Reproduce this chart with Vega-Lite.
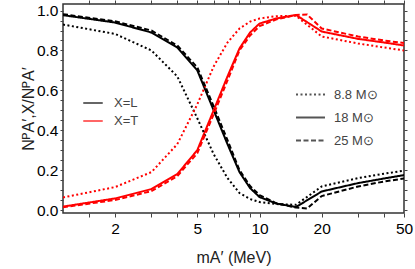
{
  "$schema": "https://vega.github.io/schema/vega-lite/v6.json",
  "width": 341,
  "height": 209,
  "autosize": {"type": "none"},
  "padding": {"left": 63, "top": 4, "right": 11, "bottom": 56},
  "config": {
    "font": "Liberation Sans",
    "view": {"stroke": "#333333", "strokeWidth": 1.5},
    "axis": {"domain": false, "grid": false, "tickColor": "#444444", "tickWidth": 1, "labelFont": "Liberation Sans", "titleFont": "Liberation Sans", "labelColor": "#000000", "titleColor": "#222222", "titleFontWeight": "normal"}
  },
  "data": {"values": [
    {"m": 1.12, "f": 0.977, "x": "X=L", "s": "18 M⊙"},
    {"m": 2, "f": 0.94, "x": "X=L", "s": "18 M⊙"},
    {"m": 3, "f": 0.89, "x": "X=L", "s": "18 M⊙"},
    {"m": 4, "f": 0.815, "x": "X=L", "s": "18 M⊙"},
    {"m": 5, "f": 0.70, "x": "X=L", "s": "18 M⊙"},
    {"m": 6, "f": 0.50, "x": "X=L", "s": "18 M⊙"},
    {"m": 7, "f": 0.33, "x": "X=L", "s": "18 M⊙"},
    {"m": 8, "f": 0.19, "x": "X=L", "s": "18 M⊙"},
    {"m": 9, "f": 0.11, "x": "X=L", "s": "18 M⊙"},
    {"m": 10, "f": 0.065, "x": "X=L", "s": "18 M⊙"},
    {"m": 12, "f": 0.033, "x": "X=L", "s": "18 M⊙"},
    {"m": 15, "f": 0.015, "x": "X=L", "s": "18 M⊙"},
    {"m": 20, "f": 0.093, "x": "X=L", "s": "18 M⊙"},
    {"m": 30, "f": 0.135, "x": "X=L", "s": "18 M⊙"},
    {"m": 40, "f": 0.158, "x": "X=L", "s": "18 M⊙"},
    {"m": 50, "f": 0.175, "x": "X=L", "s": "18 M⊙"},
    {"m": 1.12, "f": 0.017, "x": "X=T", "s": "18 M⊙"},
    {"m": 2, "f": 0.058, "x": "X=T", "s": "18 M⊙"},
    {"m": 3, "f": 0.105, "x": "X=T", "s": "18 M⊙"},
    {"m": 4, "f": 0.18, "x": "X=T", "s": "18 M⊙"},
    {"m": 5, "f": 0.30, "x": "X=T", "s": "18 M⊙"},
    {"m": 6, "f": 0.50, "x": "X=T", "s": "18 M⊙"},
    {"m": 7, "f": 0.67, "x": "X=T", "s": "18 M⊙"},
    {"m": 8, "f": 0.81, "x": "X=T", "s": "18 M⊙"},
    {"m": 9, "f": 0.89, "x": "X=T", "s": "18 M⊙"},
    {"m": 10, "f": 0.935, "x": "X=T", "s": "18 M⊙"},
    {"m": 12, "f": 0.96, "x": "X=T", "s": "18 M⊙"},
    {"m": 15, "f": 0.978, "x": "X=T", "s": "18 M⊙"},
    {"m": 20, "f": 0.895, "x": "X=T", "s": "18 M⊙"},
    {"m": 30, "f": 0.858, "x": "X=T", "s": "18 M⊙"},
    {"m": 40, "f": 0.84, "x": "X=T", "s": "18 M⊙"},
    {"m": 50, "f": 0.825, "x": "X=T", "s": "18 M⊙"},
    {"m": 1.12, "f": 0.93, "x": "X=L", "s": "8.8 M⊙"},
    {"m": 2, "f": 0.883, "x": "X=L", "s": "8.8 M⊙"},
    {"m": 3, "f": 0.80, "x": "X=L", "s": "8.8 M⊙"},
    {"m": 4, "f": 0.67, "x": "X=L", "s": "8.8 M⊙"},
    {"m": 5, "f": 0.46, "x": "X=L", "s": "8.8 M⊙"},
    {"m": 6, "f": 0.28, "x": "X=L", "s": "8.8 M⊙"},
    {"m": 7, "f": 0.16, "x": "X=L", "s": "8.8 M⊙"},
    {"m": 8, "f": 0.085, "x": "X=L", "s": "8.8 M⊙"},
    {"m": 9, "f": 0.055, "x": "X=L", "s": "8.8 M⊙"},
    {"m": 10, "f": 0.04, "x": "X=L", "s": "8.8 M⊙"},
    {"m": 12, "f": 0.03, "x": "X=L", "s": "8.8 M⊙"},
    {"m": 15, "f": 0.026, "x": "X=L", "s": "8.8 M⊙"},
    {"m": 20, "f": 0.118, "x": "X=L", "s": "8.8 M⊙"},
    {"m": 30, "f": 0.16, "x": "X=L", "s": "8.8 M⊙"},
    {"m": 40, "f": 0.182, "x": "X=L", "s": "8.8 M⊙"},
    {"m": 50, "f": 0.197, "x": "X=L", "s": "8.8 M⊙"},
    {"m": 1.12, "f": 0.063, "x": "X=T", "s": "8.8 M⊙"},
    {"m": 2, "f": 0.115, "x": "X=T", "s": "8.8 M⊙"},
    {"m": 3, "f": 0.19, "x": "X=T", "s": "8.8 M⊙"},
    {"m": 4, "f": 0.33, "x": "X=T", "s": "8.8 M⊙"},
    {"m": 5, "f": 0.53, "x": "X=T", "s": "8.8 M⊙"},
    {"m": 6, "f": 0.72, "x": "X=T", "s": "8.8 M⊙"},
    {"m": 7, "f": 0.84, "x": "X=T", "s": "8.8 M⊙"},
    {"m": 8, "f": 0.91, "x": "X=T", "s": "8.8 M⊙"},
    {"m": 9, "f": 0.945, "x": "X=T", "s": "8.8 M⊙"},
    {"m": 10, "f": 0.96, "x": "X=T", "s": "8.8 M⊙"},
    {"m": 12, "f": 0.972, "x": "X=T", "s": "8.8 M⊙"},
    {"m": 15, "f": 0.974, "x": "X=T", "s": "8.8 M⊙"},
    {"m": 20, "f": 0.87, "x": "X=T", "s": "8.8 M⊙"},
    {"m": 30, "f": 0.835, "x": "X=T", "s": "8.8 M⊙"},
    {"m": 40, "f": 0.815, "x": "X=T", "s": "8.8 M⊙"},
    {"m": 50, "f": 0.80, "x": "X=T", "s": "8.8 M⊙"},
    {"m": 1.12, "f": 0.982, "x": "X=L", "s": "25 M⊙"},
    {"m": 2, "f": 0.946, "x": "X=L", "s": "25 M⊙"},
    {"m": 3, "f": 0.90, "x": "X=L", "s": "25 M⊙"},
    {"m": 4, "f": 0.825, "x": "X=L", "s": "25 M⊙"},
    {"m": 5, "f": 0.715, "x": "X=L", "s": "25 M⊙"},
    {"m": 6, "f": 0.52, "x": "X=L", "s": "25 M⊙"},
    {"m": 7, "f": 0.35, "x": "X=L", "s": "25 M⊙"},
    {"m": 8, "f": 0.20, "x": "X=L", "s": "25 M⊙"},
    {"m": 9, "f": 0.12, "x": "X=L", "s": "25 M⊙"},
    {"m": 10, "f": 0.075, "x": "X=L", "s": "25 M⊙"},
    {"m": 12, "f": 0.035, "x": "X=L", "s": "25 M⊙"},
    {"m": 15, "f": 0.012, "x": "X=L", "s": "25 M⊙"},
    {"m": 17, "f": 0.008, "x": "X=L", "s": "25 M⊙"},
    {"m": 20, "f": 0.07, "x": "X=L", "s": "25 M⊙"},
    {"m": 30, "f": 0.118, "x": "X=L", "s": "25 M⊙"},
    {"m": 40, "f": 0.143, "x": "X=L", "s": "25 M⊙"},
    {"m": 50, "f": 0.158, "x": "X=L", "s": "25 M⊙"},
    {"m": 1.12, "f": 0.014, "x": "X=T", "s": "25 M⊙"},
    {"m": 2, "f": 0.05, "x": "X=T", "s": "25 M⊙"},
    {"m": 3, "f": 0.095, "x": "X=T", "s": "25 M⊙"},
    {"m": 4, "f": 0.17, "x": "X=T", "s": "25 M⊙"},
    {"m": 5, "f": 0.285, "x": "X=T", "s": "25 M⊙"},
    {"m": 6, "f": 0.48, "x": "X=T", "s": "25 M⊙"},
    {"m": 7, "f": 0.65, "x": "X=T", "s": "25 M⊙"},
    {"m": 8, "f": 0.80, "x": "X=T", "s": "25 M⊙"},
    {"m": 9, "f": 0.875, "x": "X=T", "s": "25 M⊙"},
    {"m": 10, "f": 0.922, "x": "X=T", "s": "25 M⊙"},
    {"m": 12, "f": 0.955, "x": "X=T", "s": "25 M⊙"},
    {"m": 15, "f": 0.978, "x": "X=T", "s": "25 M⊙"},
    {"m": 17, "f": 0.98, "x": "X=T", "s": "25 M⊙"},
    {"m": 20, "f": 0.91, "x": "X=T", "s": "25 M⊙"},
    {"m": 30, "f": 0.87, "x": "X=T", "s": "25 M⊙"},
    {"m": 40, "f": 0.85, "x": "X=T", "s": "25 M⊙"},
    {"m": 50, "f": 0.837, "x": "X=T", "s": "25 M⊙"}
  ]},
  "layer": [
    {
      "mark": {"type": "line", "strokeWidth": 2, "clip": true},
      "encoding": {
        "x": {
          "field": "m", "type": "quantitative",
          "scale": {"type": "log", "domain": [1.12, 50], "nice": false},
          "axis": {
            "orient": "bottom",
            "values": [1.5, 2, 3, 4, 5, 6, 7, 8, 9, 10, 15, 20, 30, 40, 50],
            "labelExpr": "indexof([2,5,10,20,50], datum.value) >= 0 ? '' + datum.value : ''",
            "labelFontSize": 15.5, "labelPadding": 4, "tickSize": 4,
            "labelFlush": false,
            "title": "mA′ (MeV)", "titleFontSize": 16, "titlePadding": 13,
            "encode": {"ticks": {"y2": {"condition": {"test": "indexof([2,5,10,20,50], datum.value) >= 0", "value": -6}, "value": -3}}}
          }
        },
        "y": {
          "field": "f", "type": "quantitative",
          "scale": {"domain": [-0.015, 1.033], "nice": false, "zero": false},
          "axis": {
            "orient": "left",
            "values": [0, 0.05, 0.1, 0.15, 0.2, 0.25, 0.3, 0.35, 0.4, 0.45, 0.5, 0.55, 0.6, 0.65, 0.7, 0.75, 0.8, 0.85, 0.9, 0.95, 1.0],
            "labelExpr": "abs(datum.value*5 - round(datum.value*5)) < 0.001 ? format(datum.value, '.1f') : ''",
            "labelFontSize": 15.5, "labelPadding": 2, "tickSize": 3,
            "title": "NᴾA′,X/NᴾA′", "titleFontSize": 16, "titlePadding": 0,
            "encode": {"ticks": {"x2": {"condition": {"test": "abs(datum.value*5 - round(datum.value*5)) < 0.001", "value": 6}, "value": 3}}}
          }
        },
        "color": {
          "field": "x", "type": "nominal",
          "scale": {"domain": ["X=L", "X=T"], "range": ["#000000", "#ff0000"]},
          "legend": {"orient": "none", "legendX": 19, "legendY": 88, "title": null, "symbolType": "stroke", "symbolSize": 380, "symbolStrokeWidth": 1.6, "symbolOpacity": 0.75, "labelFontSize": 13, "labelColor": "#444444", "labelOffset": 10, "rowPadding": 0}
        },
        "strokeDash": {
          "field": "s", "type": "nominal",
          "scale": {"domain": ["8.8 M⊙", "18 M⊙", "25 M⊙"], "range": [[2, 2.5], [1, 0], [5, 2.5]]},
          "legend": {"orient": "none", "legendX": 232, "legendY": 75, "title": null, "symbolType": "stroke", "symbolSize": 840, "symbolStrokeWidth": 1.8, "symbolStrokeColor": "#555555", "labelFontSize": 13, "labelColor": "#444444", "labelOffset": 8, "rowPadding": -12}
        }
      }
    },
    {
      "mark": {"type": "point", "opacity": 0},
      "encoding": {
        "x": {
          "field": "m", "type": "quantitative",
          "axis": {
            "orient": "top", "values": [1.5, 2, 3, 4, 5, 6, 7, 8, 9, 10, 15, 20, 30, 40, 50],
            "labels": false, "title": null, "tickSize": 4,
            "encode": {"ticks": {"y2": {"condition": {"test": "indexof([2,5,10,20,50], datum.value) >= 0", "value": 6}, "value": 3}}}
          }
        },
        "y": {
          "field": "f", "type": "quantitative",
          "axis": {
            "orient": "right",
            "values": [0, 0.05, 0.1, 0.15, 0.2, 0.25, 0.3, 0.35, 0.4, 0.45, 0.5, 0.55, 0.6, 0.65, 0.7, 0.75, 0.8, 0.85, 0.9, 0.95, 1.0],
            "labels": false, "title": null, "tickSize": 3,
            "encode": {"ticks": {"x2": {"condition": {"test": "abs(datum.value*5 - round(datum.value*5)) < 0.001", "value": -6}, "value": -3}}}
          }
        }
      }
    }
  ],
  "resolve": {"axis": {"x": "independent", "y": "independent"}}
}
